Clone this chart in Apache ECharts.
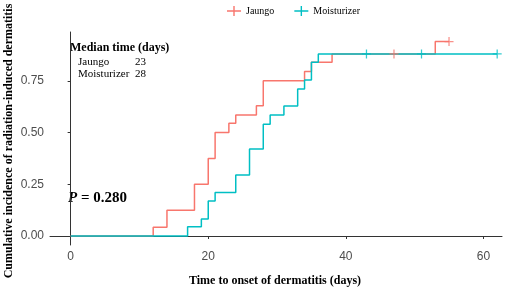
<!DOCTYPE html>
<html>
<head>
<meta charset="utf-8">
<script src="https://cdn.jsdelivr.net/npm/echarts@6/dist/echarts.min.js"></script>
<style>
  html, body { margin: 0; padding: 0; background: #fff; }
  #chart { width: 505px; height: 289px; }
</style>
</head>
<body>
<div id="chart"></div>
<script>
// 数据：累积发生率阶梯曲线 [天, 发生率]
const jaungoSteps = [[0, 0], [12, 0.042], [14, 0.125], [18, 0.25], [20, 0.375], [21, 0.5], [23, 0.545],
  [24, 0.585], [27, 0.63], [28, 0.75], [34, 0.795], [35, 0.84], [38, 0.88], [53, 0.94], [55, 0.94]];
const moistSteps = [[0, 0], [17, 0.045], [19, 0.082], [20, 0.169], [21, 0.21], [24, 0.295], [26, 0.42],
  [28, 0.54], [29, 0.585], [31, 0.628], [33, 0.71], [34, 0.754], [35, 0.84], [36, 0.88], [62, 0.88]];
// 删失标记
const jaungoCensor = [[47, 0.88], [55, 0.94]];
const moistCensor = [[43, 0.88], [51, 0.88], [62, 0.88]];
// 刻度
const xTicks = [0, 20, 40, 60];
const yTicks = [0, 0.25, 0.5, 0.75];
const groups = ['Jaungo', 'Moisturizer'];

const RED = '#F8766D';
const TEAL = '#00BFC4';
const plus = 'path://M-0.7,-5H0.7V-0.7H5V0.7H0.7V5H-0.7V0.7H-5V-0.7H-0.7Z';
const legendIcon = 'path://M0,4.3H6.3V0H7.7V4.3H14V5.7H7.7V10H6.3V5.7H0Z';
const serif = '"Liberation Serif", "Times New Roman", serif';
const sans = '"Liberation Sans", Arial, sans-serif';

const chart = echarts.init(document.getElementById('chart'));

const option = {
  animation: false,
  grid: { left: 50, right: 3, top: 32, bottom: 44, containLabel: false },
  legend: {
    data: [
      { name: groups[0], icon: legendIcon, itemStyle: { color: RED } },
      { name: groups[1], icon: legendIcon, itemStyle: { color: TEAL } }
    ],
    left: 222, top: 1,
    itemWidth: 14, itemHeight: 10, itemGap: 20,
    textStyle: { fontFamily: serif, fontSize: 10, color: '#000' }
  },
  xAxis: {
    type: 'value', min: -3, max: 62.7,
    splitLine: { show: false },
    axisLine: { lineStyle: { color: '#333', width: 1 } },
    axisTick: { show: true, length: 3, customValues: xTicks, lineStyle: { color: '#333' } },
    axisLabel: { customValues: xTicks, margin: 6, color: '#4d4d4d', fontFamily: sans, fontSize: 12 }
  },
  yAxis: {
    type: 'value', min: -0.0435, max: 0.986,
    splitLine: { show: false },
    axisLine: { show: true, lineStyle: { color: '#333', width: 1 } },
    axisTick: { show: true, length: 3, customValues: yTicks, lineStyle: { color: '#333' } },
    axisLabel: {
      customValues: yTicks, margin: 6, color: '#4d4d4d', fontFamily: sans, fontSize: 12,
      formatter: v => v.toFixed(2)
    }
  },
  series: [
    {
      name: groups[0], type: 'line', step: 'end', data: jaungoSteps,
      showSymbol: false, symbol: 'none', color: RED,
      lineStyle: { color: RED, width: 1.5 }, z: 2
    },
    {
      name: groups[1], type: 'line', step: 'end', data: moistSteps,
      showSymbol: false, symbol: 'none', color: TEAL,
      lineStyle: { color: TEAL, width: 1.5 }, z: 3
    },
    {
      name: groups[0], type: 'scatter', data: jaungoCensor, symbol: plus, symbolSize: 9,
      itemStyle: { color: RED }, z: 4
    },
    {
      name: groups[1], type: 'scatter', data: moistCensor, symbol: plus, symbolSize: 9,
      itemStyle: { color: TEAL }, z: 4
    }
  ],
  graphic: [
    {
      type: 'text', left: 70, top: 42,
      style: { text: 'Median time (days)', font: 'bold 12px ' + serif, fill: '#000' }
    },
    {
      type: 'text', left: 78, top: 57,
      style: { text: 'Jaungo', font: '11px ' + serif, fill: '#000' }
    },
    {
      type: 'text', left: 135, top: 57,
      style: { text: '23', font: '11px ' + serif, fill: '#000' }
    },
    {
      type: 'text', left: 78, top: 69,
      style: { text: 'Moisturizer', font: '11px ' + serif, fill: '#000' }
    },
    {
      type: 'text', left: 135, top: 69,
      style: { text: '28', font: '11px ' + serif, fill: '#000' }
    },
    {
      type: 'text', left: 68, top: 191,
      style: {
        text: '{i|P}{b| = 0.280}',
        rich: {
          i: { fontFamily: serif, fontSize: 15, fontWeight: 'bold', fontStyle: 'italic', fill: '#000' },
          b: { fontFamily: serif, fontSize: 15, fontWeight: 'bold', fill: '#000' }
        }
      }
    },
    {
      type: 'text', x: 275, y: 281,
      style: {
        text: 'Time to onset of dermatitis (days)', font: 'bold 12px ' + serif, fill: '#000',
        textAlign: 'center', textVerticalAlign: 'middle'
      }
    },
    {
      type: 'text', x: 9, y: 141, rotation: Math.PI / 2,
      style: {
        text: 'Cumulative incidence of radiation-induced dermatitis', font: 'bold 12px ' + serif, fill: '#000',
        textAlign: 'center', textVerticalAlign: 'middle'
      }
    }
  ]
};

chart.setOption(option);
window.onresize = chart.resize;
</script>
</body>
</html>
